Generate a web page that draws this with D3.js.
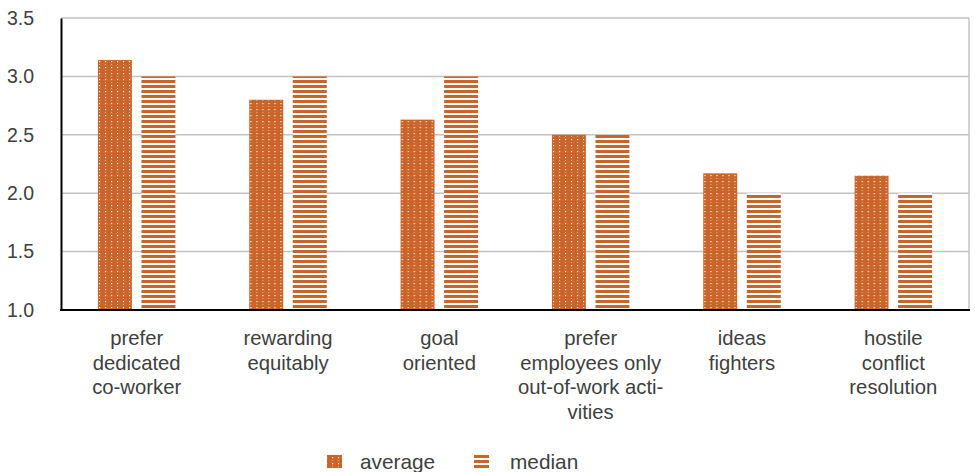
<!DOCTYPE html>
<html>
<head>
<meta charset="utf-8">
<script src="https://cdn.jsdelivr.net/npm/d3@7"></script>
<style>
  html, body { margin: 0; padding: 0; background: #fff; }
  svg { display: block; font-family: "Liberation Sans", Arial, sans-serif; }
</style>
</head>
<body>
<svg id="chart" width="975" height="472"></svg>
<script>
// Survey items (label lines) and their scores
const categories = [
  ["prefer", "dedicated", "co-worker"],
  ["rewarding", "equitably"],
  ["goal", "oriented"],
  ["prefer", "employees only", "out-of-work acti-", "vities"],
  ["ideas", "fighters"],
  ["hostile", "conflict", "resolution"]
];
const seriesNames = ["average", "median"];
const averageValues = [3.14, 2.80, 2.63, 2.50, 2.17, 2.15];
const medianValues  = [3.0, 3.0, 3.0, 2.5, 2.0, 2.0];
const yTicks = [1.0, 1.5, 2.0, 2.5, 3.0, 3.5];

const plot = { left: 61, right: 969, top: 18, bottom: 310 };
const orange = "#C9652A";
const textColor = "#404040";

const svg = d3.select("#chart");
const defs = svg.append("defs");

// Dotted fill for "average"
const dots = defs.append("pattern")
  .attr("id", "pat-dots").attr("patternUnits", "userSpaceOnUse")
  .attr("width", 6).attr("height", 6);
dots.append("rect").attr("width", 6).attr("height", 6).attr("fill", orange);
dots.append("rect").attr("x", 2).attr("y", 1).attr("width", 1.2).attr("height", 1.2).attr("fill", "#fff");
dots.append("rect").attr("x", 2).attr("y", 4).attr("width", 0.8).attr("height", 0.8).attr("fill", "#fff").attr("opacity", 0.7);

// Horizontal stripes for "median"
const stripes = defs.append("pattern")
  .attr("id", "pat-stripes").attr("patternUnits", "userSpaceOnUse")
  .attr("width", 10).attr("height", 5);
stripes.append("rect").attr("width", 10).attr("height", 5).attr("fill", "#fff");
stripes.append("rect").attr("y", 0).attr("width", 10).attr("height", 3).attr("fill", orange);

const fills = { average: "url(#pat-dots)", median: "url(#pat-stripes)" };

const x = d3.scaleBand()
  .domain(d3.range(categories.length))
  .range([plot.left, plot.right])
  .padding(0);

const groupWidth = 77.5;
const xSub = d3.scaleBand()
  .domain(seriesNames)
  .range([(x.bandwidth() - groupWidth) / 2, (x.bandwidth() + groupWidth) / 2])
  .paddingInner(0.22);

const y = d3.scaleLinear().domain([1, 3.5]).range([plot.bottom, plot.top]);

// Gridlines
svg.append("g")
  .selectAll("line").data(yTicks.filter(t => t > 1)).join("line")
  .attr("x1", plot.left).attr("x2", plot.right)
  .attr("y1", d => y(d)).attr("y2", d => y(d))
  .attr("stroke", "#c3c3c3").attr("stroke-width", 1.5);

// Right border of the plot area
svg.append("line")
  .attr("x1", plot.right).attr("x2", plot.right)
  .attr("y1", plot.top).attr("y2", plot.bottom)
  .attr("stroke", "#c3c3c3").attr("stroke-width", 1.5);

// Bars
const rows = categories.map((c, i) => ({ i, average: averageValues[i], median: medianValues[i] }));
const groups = svg.append("g").selectAll("g").data(rows).join("g")
  .attr("transform", d => `translate(${x(d.i)},0)`);
groups.selectAll("rect")
  .data(d => seriesNames.map(s => ({ s, v: d[s] })))
  .join("rect")
  .attr("x", d => xSub(d.s))
  .attr("width", xSub.bandwidth())
  .attr("y", d => y(d.v))
  .attr("height", d => y(1) - y(d.v))
  .attr("fill", d => fills[d.s]);

// Y axis
const yAxis = d3.axisLeft(y).tickValues(yTicks).tickFormat(d3.format(".1f")).tickSize(0).tickPadding(27);
const gy = svg.append("g").attr("transform", `translate(${plot.left},0)`).call(yAxis);
gy.select(".domain").attr("stroke", "#000").attr("stroke-width", 2);
gy.selectAll("text").attr("fill", textColor).attr("font-size", 19.5)
  .attr("font-family", "Liberation Sans, Arial, sans-serif");

// X axis line
svg.append("line")
  .attr("x1", plot.left - 1).attr("x2", plot.right + 1)
  .attr("y1", plot.bottom).attr("y2", plot.bottom)
  .attr("stroke", "#000").attr("stroke-width", 2);

// Category labels
const labels = svg.append("g").selectAll("text").data(categories).join("text")
  .attr("text-anchor", "middle")
  .attr("fill", textColor).attr("font-size", 20.3)
  .attr("transform", (d, i) => `translate(${x(i) + x.bandwidth() / 2},345)`);
labels.selectAll("tspan").data(d => d).join("tspan")
  .attr("x", 0).attr("y", (d, j) => j * 24.5)
  .text(d => d);

// Legend
const legend = svg.append("g");
const legendItems = [
  { s: "average", mx: 327, tx: 360 },
  { s: "median", mx: 474, tx: 510 }
];
legendItems.forEach(it => {
  legend.append("rect")
    .attr("x", it.mx).attr("y", 455).attr("width", 15).attr("height", 13)
    .attr("fill", fills[it.s]);
  legend.append("text")
    .attr("x", it.tx).attr("y", 469)
    .attr("fill", textColor).attr("font-size", 20.8)
    .text(it.s);
});
</script>
</body>
</html>
